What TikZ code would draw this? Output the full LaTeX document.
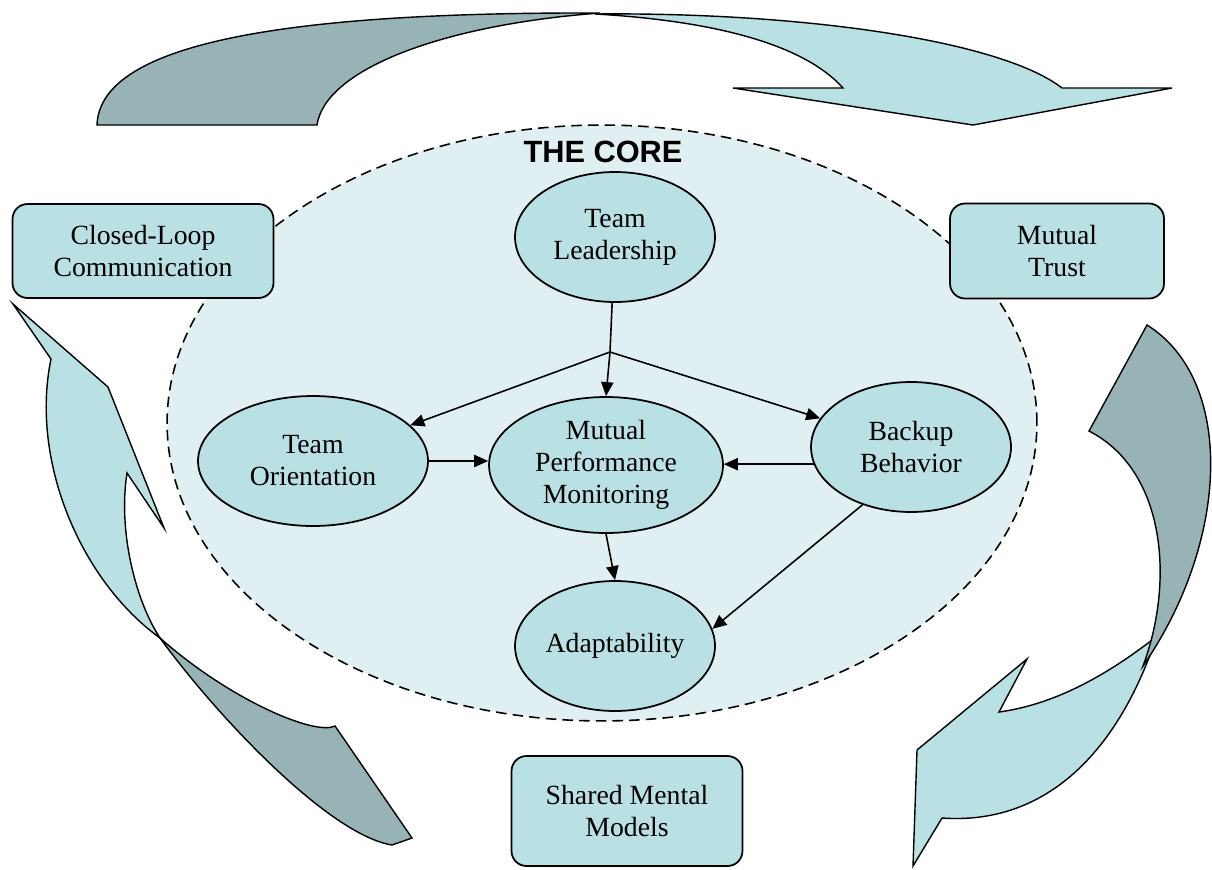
\documentclass[tikz,border=0pt]{standalone}
\usepackage{fontspec}
\setmainfont{Liberation Serif}
\newfontfamily\headfont{Liberation Sans}
\usetikzlibrary{shapes.geometric,arrows.meta}
\definecolor{boxfill}{HTML}{B9E0E3}
\definecolor{backfill}{HTML}{97B3B6}
\definecolor{corefill}{HTML}{E0F0F2}
\begin{document}
\begin{tikzpicture}[x=0.02cm,y=-0.02cm,
    skill/.style={ellipse, draw, line width=1pt, fill=boxfill, inner sep=0pt, align=center,
        minimum width=4cm, minimum height=2.6cm, font=\fontsize{15.8}{18.2}\selectfont},
    cond/.style={rectangle, rounded corners=0.3cm, draw, line width=1pt, fill=boxfill,
        align=center, font=\fontsize{15.8}{18.2}\selectfont},
    link/.style={-{Triangle[length=8pt,width=7pt]}, line width=0.9pt},
    band/.style={draw, line width=0.8pt, line join=miter}]
    \useasboundingbox (0,0) rectangle (1212,869);

    % The core
    \node[ellipse, draw, dash pattern=on 6pt off 3.5pt, line width=0.9pt, fill=corefill,
        minimum width=17.4cm, minimum height=11.92cm] (core) at (602,423) {};
    \node[font=\headfont\bfseries\fontsize{17.5}{20}\selectfont] (title) at (603,152) {THE CORE};

    % Coordinating conditions
    \node[cond, minimum width=5.22cm, minimum height=1.88cm] (loop) at (143,251) {Closed-Loop\\Communication};
    \node[cond, minimum width=4.28cm, minimum height=1.9cm] (trust) at (1057,251) {Mutual\\Trust};
    \node[cond, minimum width=4.62cm, minimum height=2.2cm] (models) at (627,811) {Shared Mental\\Models};

    % Core components
    \node[skill] (lead) at (615,237) {Team\\Leadership};
    \node[skill, minimum width=4.6cm] (orient) at (313,461) {Team\\Orientation};
    \node[skill, minimum width=4.68cm, minimum height=2.72cm] (mpm) at (606,465) {Mutual\\Performance\\Monitoring};
    \node[skill] (backup) at (911,447) {Backup\\Behavior};
    \node[skill] (adapt) at (615,646) {Adaptability};

    % Links
    \coordinate (split) at (610,352);
    \draw[line width=0.9pt] (lead) -- (split);
    \draw[link] (split) -- (mpm.north);
    \draw[link] (split) -- (orient);
    \draw[link] (split) -- (backup);
    \draw[link] (orient.east) -- (orient.east -| mpm.west);
    \draw[link] (backup.190) -- (backup.190 -| mpm.east);
    \draw[link] (mpm.south) -- (adapt.north);
    \draw[link] (backup.230) -- (adapt.10);

    % Top arrow
    \path[band, fill=backfill] (97,125) .. controls (100,40) and (300,12) .. (600,13)
        .. controls (440,25) and (325,70) .. (317,125) -- cycle;
    \path[band, fill=boxfill] (595,14) .. controls (800,12) and (1000,40) .. (1062,88)
        -- (1172,88) -- (973,125) -- (733,88) -- (843,88)
        .. controls (800,40) and (700,20) .. (595,14) -- cycle;

    % Right arrow
    \path[band, fill=boxfill] (1152,640) .. controls (1100,680) and (1050,705) .. (999,712)
        -- (1027,659) -- (917,750) -- (913,866) -- (942,818)
        .. controls (1040,825) and (1110,760) .. (1150,655) -- cycle;
    \path[band, fill=backfill] (1147,325) .. controls (1235,380) and (1230,540) .. (1143,666)
        .. controls (1175,580) and (1165,470) .. (1089,431) -- cycle;

    % Left arrow
    \path[band, fill=boxfill] (13,304) -- (108,387) -- (164,528) -- (127,473)
        .. controls (118,530) and (135,600) .. (160,638)
        .. controls (80,580) and (30,460) .. (51,359) -- cycle;
    \path[band, fill=backfill] (160,638) .. controls (220,720) and (330,835) .. (392,845)
        -- (412,838) -- (335,726) .. controls (315,736) and (230,700) .. (160,638) -- cycle;
\end{tikzpicture}
\end{document}
